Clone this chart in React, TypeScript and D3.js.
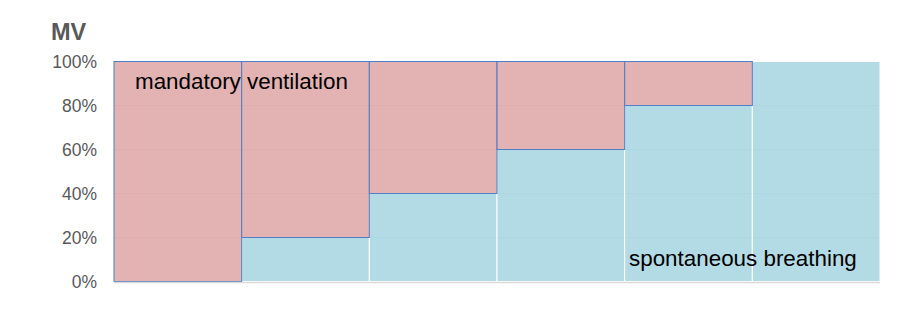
import React from "react";
import * as d3 from "d3";

const categories = ["1", "2", "3", "4", "5", "6"];
const spontaneous = [0, 20, 40, 60, 80, 100];
const mandatory = [100, 80, 60, 40, 20, 0];
const yTicks = [0, 20, 40, 60, 80, 100];

export default function App() {
  const W = 910, H = 319;
  const left = 114, right = 880, top = 61.5, bottom = 281.5;
  const x = d3.scaleBand<string>().domain(categories).range([left, right]).padding(0);
  const y = d3.scaleLinear().domain([0, 100]).range([bottom, top]);
  const font = "'Liberation Sans', Arial, sans-serif";
  return (
    <svg width={W} height={H} style={{ position: "absolute", left: 0, top: 0 }}>
      <text x={51} y={40} fontFamily={font} fontWeight="bold" fontSize={23.5} fill="#595959">MV</text>
      {yTicks.map(t => (
        <text key={t} x={97} y={y(t) + 6} textAnchor="end" fontFamily={font} fontSize={17.5} fill="#595959">{t}%</text>
      ))}
      {yTicks.filter(t => t > 0).map(t => (
        <line key={t} x1={left} x2={right} y1={y(t)} y2={y(t)} stroke="#d9d9d9" strokeWidth={1} />
      ))}
      {categories.map((c, i) => spontaneous[i] > 0 && (
        <rect key={"s" + c} x={x(c)!} y={y(spontaneous[i])} width={x.bandwidth()} height={y(0) - y(spontaneous[i])}
          fill="#a9d6e2" fillOpacity={0.88} stroke="#ffffff" strokeWidth={1} />
      ))}
      {categories.map((c, i) => mandatory[i] > 0 && (
        <rect key={"m" + c} x={x(c)!} y={y(100)} width={x.bandwidth()} height={y(spontaneous[i]) - y(100)}
          fill="#dea5a6" fillOpacity={0.85} stroke="#4f7fc6" strokeWidth={1} />
      ))}
      <line x1={left} x2={right} y1={bottom + 1} y2={bottom + 1} stroke="#d9d9d9" strokeWidth={1.5} />
      <text x={135} y={89} fontFamily={font} fontSize={22.4} fill="#000">mandatory ventilation</text>
      <text x={629} y={266} fontFamily={font} fontSize={22.4} fill="#000">spontaneous breathing</text>
    </svg>
  );
}
